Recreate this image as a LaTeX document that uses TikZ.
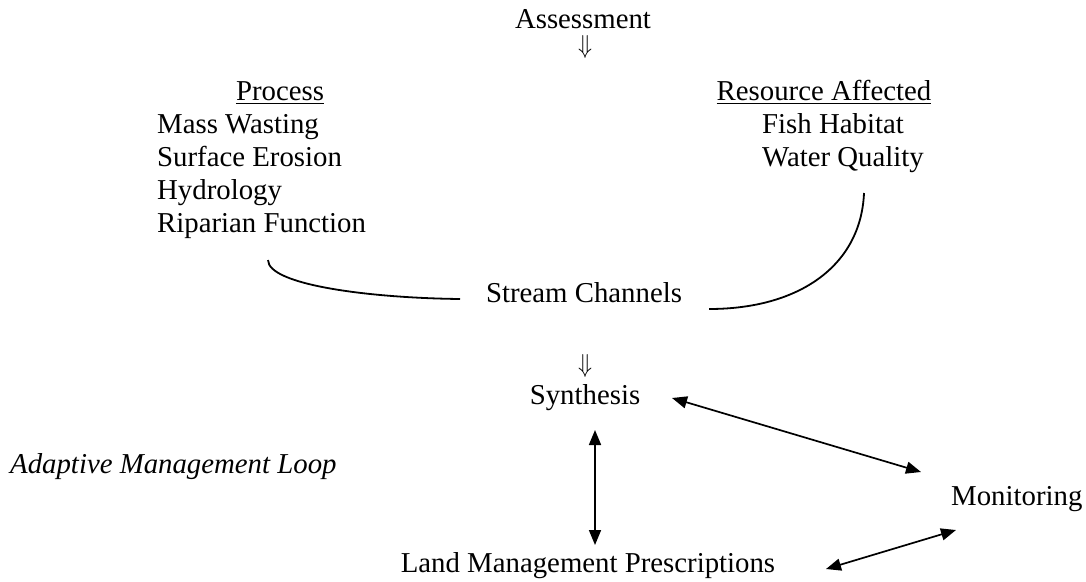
\documentclass[tikz,border=0pt]{standalone}
\usepackage{fontspec}
\setmainfont{Liberation Serif}
\usetikzlibrary{arrows.meta}
\tikzset{
  lbl/.style={inner sep=0pt, font=\fontsize{28.8}{33}\selectfont},
  ital/.style={lbl, font=\fontsize{28.8}{33}\selectfont\itshape},
  darr/.style={inner sep=0pt},
  ulin/.style={line width=1.6pt},
  curve/.style={line width=1.8pt},
  twoway/.style={{Triangle[length=15pt,width=12pt]}-{Triangle[length=15pt,width=12pt]}, line width=1.7pt}
}
\begin{document}
\begin{tikzpicture}[x=1pt,y=-1pt]
\useasboundingbox (0,0) rectangle (1086,581);
% headings
\node[lbl, anchor=base] (assess) at (583,28) {Assessment};
\node[darr, anchor=north] (d1) at (585,35) {\resizebox{14pt}{18pt}{$\Downarrow$}};
\node[lbl, anchor=base] (proc) at (280,100) {Process};
\draw[ulin] ([yshift=-3.5pt]proc.base west) -- ([yshift=-3.5pt]proc.base east);
\node[lbl, anchor=base] (res) at (824,100) {Resource Affected};
\draw[ulin] ([yshift=-3.5pt]res.base west) -- ([yshift=-3.5pt]res.base east);
% lists
\node[lbl, anchor=base west] (mw) at (157,133) {Mass Wasting};
\node[lbl, anchor=base west] (se) at (157,166) {Surface Erosion};
\node[lbl, anchor=base west] (hy) at (157,199) {Hydrology};
\node[lbl, anchor=base west] (rf) at (157,232) {Riparian Function};
\node[lbl, anchor=base west] (fh) at (762,133) {Fish Habitat};
\node[lbl, anchor=base west] (wq) at (762,166) {Water Quality};
% stream channels
\node[lbl, anchor=base] (sc) at (584,302) {Stream Channels};
\coordinate (lc0) at (268,260);
\coordinate (lc1) at (460,299);
\coordinate (rc0) at (864,193);
\coordinate (rc1) at (709,309);
\draw[curve] (lc0) .. controls (268,285) and (370,298) .. (lc1);
\draw[curve] (rc0) .. controls (861,265) and (800,309) .. (rc1);
\node[darr, anchor=north] (d2) at (585,354) {\resizebox{14pt}{18pt}{$\Downarrow$}};
% loop
\node[lbl, anchor=base] (syn) at (585,404) {Synthesis};
\node[ital, anchor=base west] (aml) at (10,473) {Adaptive Management Loop};
\node[lbl, anchor=base west] (mon) at (951,505) {Monitoring};
\node[lbl, anchor=base] (lmp) at (588,572) {Land Management Prescriptions};
\coordinate (a1) at (672,398);
\coordinate (a2) at (921,472);
\coordinate (b1) at (595,430);
\coordinate (b2) at (595,545);
\coordinate (c1) at (826,569);
\coordinate (c2) at (956,530);
\draw[twoway] (a1) -- (a2);
\draw[twoway] (b1) -- (b2);
\draw[twoway] (c1) -- (c2);
\end{tikzpicture}
\end{document}
